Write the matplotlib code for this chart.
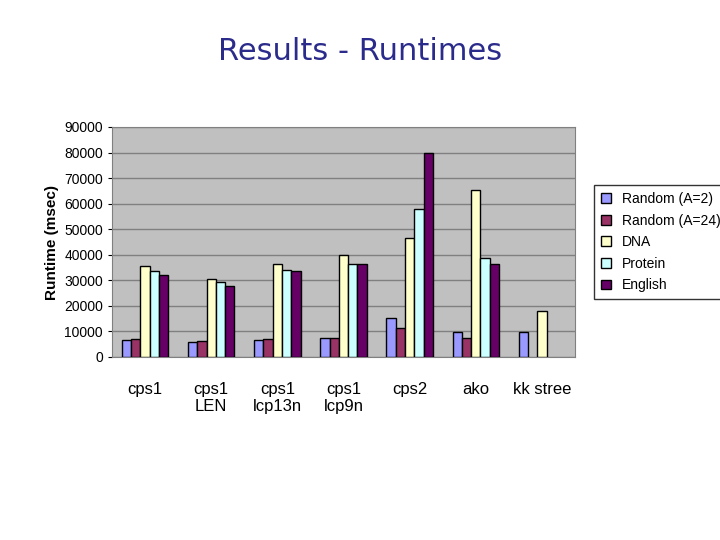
import numpy as np
import matplotlib.pyplot as plt

categories = ['cps1', 'cps1\nLEN', 'cps1\nlcp13n', 'cps1\nlcp9n', 'cps2', 'ako', 'kk stree']
series = ['Random (A=2)', 'Random (A=24)', 'DNA', 'Protein', 'English']
random2 = [6800, 5700, 6800, 7600, 15400, 9900, 9900]
random24 = [7200, 6400, 7200, 7600, 11400, 7600, np.nan]
dna = [35500, 30500, 36400, 40000, 46500, 65500, 18100]
protein = [33500, 29400, 34100, 36400, 57800, 38600, np.nan]
english = [32200, 27800, 33500, 36400, 80000, 36400, np.nan]
values = [random2, random24, dna, protein, english]
colors = ['#9999FF', '#993366', '#FFFFCC', '#CCFFFF', '#660066']

fig = plt.figure(figsize=(7.2, 5.4), dpi=100)
fig.text(0.5, 0.905, 'Results - Runtimes', ha='center', va='center',
         fontsize=22, color='#2B2B8C', family='DejaVu Sans')
ax = fig.add_axes([112/720, 1-357/540, 463/720, 230/540])
ax.set_facecolor('#C0C0C0')
x = np.arange(len(categories))
w = 0.14
for i, (name, vals, c) in enumerate(zip(series, values, colors)):
    ax.bar(x + (i - 2) * w, vals, w, color=c, edgecolor='black', linewidth=1, label=name, zorder=3)
ax.set_xlim(-0.5, len(categories) - 0.5)
ax.set_ylim(0, 90000)
ax.set_yticks(range(0, 90001, 10000))
ax.yaxis.grid(True, color='#808080', linewidth=1, zorder=0)
ax.set_xticks(x)
ax.set_xticklabels(categories, fontsize=12, family='Liberation Sans', linespacing=1.2)
ax.tick_params(axis='y', labelsize=10, length=3)
ax.tick_params(axis='x', length=0, pad=18)
for lab in ax.get_yticklabels():
    lab.set_family('Liberation Sans')
ax.set_ylabel('Runtime (msec)', fontsize=11, fontweight='bold', family='Liberation Sans')
for s in ax.spines.values():
    s.set_color('#808080')
leg = fig.legend(loc='upper left', bbox_to_anchor=(587/720, 1-178/540), fancybox=False,
                 edgecolor='black', prop={'family': 'Liberation Sans', 'size': 10},
                 handlelength=0.7, handleheight=0.7, borderpad=0.5, labelspacing=0.55)
fig.savefig('out.png', dpi=100)
